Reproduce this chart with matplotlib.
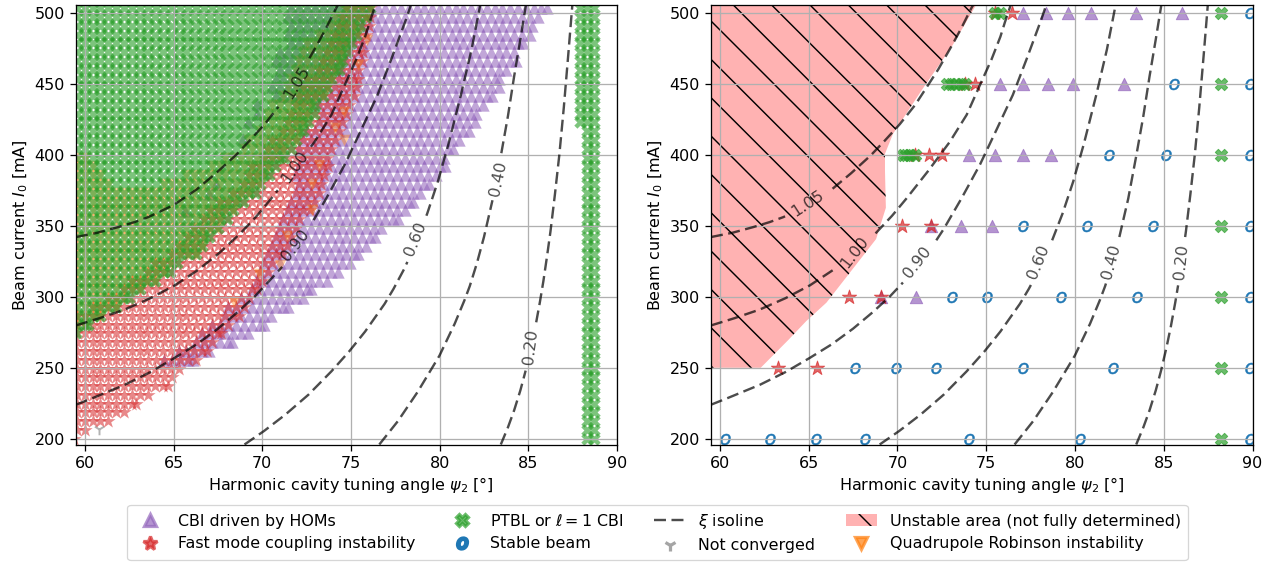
import numpy as np
import matplotlib
matplotlib.use("Agg")
import matplotlib.pyplot as plt
from matplotlib.lines import Line2D
from matplotlib.patches import Patch

plt.rcParams.update({
    "font.size": 5, "axes.linewidth": 0.4, "grid.linewidth": 0.4,
    "xtick.major.size": 1.75, "ytick.major.size": 1.75,
    "xtick.major.width": 0.4, "ytick.major.width": 0.4,
    "xtick.major.pad": 1.75, "ytick.major.pad": 1.75,
    "axes.labelpad": 1.4, "hatch.linewidth": 0.45, "patch.linewidth": 0.4,
})

nan = float("nan")

# scan rows of the left map, extent of each instability per row [deg]
rows = np.linspace(200, 503, 50)
hom_lo = [nan] * 9 + [64.2, 65, 66, 66.5, 67, 67.5, 68, 68.5, 69, 69.3, 69.5, 70, 70.2, 70.4, 70.6,
                      70.8, 71, 71.3, 71.6, 71.7, 71.8, 71.8, 71.9, 72, 72, 72.2, 72.5, 72.8, 73, 73.1,
                      70.5, 70.5, 70.5, 70.7, 70.7, 70.7, 71.2, 71.2, 71.2, 71.2, 71.2]
hom_hi = [nan] * 9 + [66.12, 67, 68.32, 69.2, 70.1, 70.5, 71.43, 72.28, 72.75, 73.65, 74.25, 74.97, 75.42,
                      75.86, 76.33, 76.8, 77.64, 78.08, 78.49, 78.97, 79.4, 79.83, 80.28, 80.28, 80.75,
                      81.19, 81.64, 82.03, 82.03, 82.5, 82.96, 83.39, 83.33, 83.82, 84.33, 84.33, 84.7,
                      85.18, 85.18, 85.65, 86.03]
fast_lo = [59] * 14 + [59.5, 60.3, 61, 61.8, 62.5, 63.3, 63.7, 64.8, 65.1, 65.5, 66, 66.5, 67, 67.4, 68.1,
                       68.5, 68.9, 69.2, 69.7, 70.1, 70.5, 70.8, 71.1, 71.4, 71.5, 72, 72.2, 72.5, 72.8,
                       73, 73.3, 73.5, 73.8, 74, 74.4, 74.7]
fast_hi = [59.4, 60, 61.3, 62.2, 62.9, 63.7, 64.7, 65, 65.4, 66.3, 66.9, 67.3, 67.7, 68.2, 68.7, 69, 69.4,
           69.7, 70, 70.4, 70.7, 71.1, 71.4, 71.7, 72, 72.2, 72.7, 72.9, 73.2, 73.3, 73.5, 73.7, 73.8, 74,
           74.2, 74.4, 74.6, 74.7, 74.9, 75.2, 75.3, 75.4, 75.5, 75.6, 75.7, 75.8, 75.9, 76, 76.1, 76.2]
ptbl_hi = [nan] * 12 + [59.5, 60.2, 61, 61.8, 62.5, 63.3, 64, 64.8, 65.2, 66.3, 66.6, 67, 67.5, 68, 68.5,
                        68.9, 69.6, 70, 70.4, 70.7, 71.2, 71.6, 72, 72.3, 72.6, 72.9, 73, 73.5, 73.7, 74,
                        74.3, 74.5, 74.8, 75, 75.3, 75.5, 75.9, 76.2]
ptbl2_cols = [88.3, 88.7]
ptbl2_upper_col = 87.93
ptbl2_upper_from = 420
quad_lo = [nan] * 12 + [59] * 22 + [69, 69.4, 69.8, 70.2, 70.5, 70.9, 71.2, 71.4, 71.5, 71.8, 72, 72.5, 73,
                                    73.5, 74, 74.5]
quad_gap_lo = [nan] * 29 + [61.6, 61, 60.6, 60.2, 59] + [nan] * 16
quad_gap_hi = [nan] * 29 + [64.4, 65.5, 67, 67.8, 68.5] + [nan] * 16
# isolated points in the left map
quad_x = [74.6, 73.2, 72.8, 72.8, 74.1, 74.6, 75.4, 75.9, 75.4, 71, 71.4, 69.8, 68.4]
quad_y = [410, 392.6, 379.6, 360.8, 418.4, 430, 485.4, 480.7, 463, 322, 343, 316, 296]
hom_x = [69.7, 69.7, 69.2, 68.9, 67.4, 67, 65.65]
hom_y = [435.7, 428.6, 422.7, 411, 379, 372, 360]
fail_x = [60.8]
fail_y = [207]

# right map
r_hom_x = [69.1, 71.05, 71.9, 73.6, 75.3, 74.05, 75.5, 77.1, 78.65, 75.75, 77.1, 78.5, 79.9, 82.75,
           77.1, 78.35, 79.6, 80.9, 83.45, 86.05]
r_hom_y = [300, 300, 350, 350, 350, 400, 400, 400, 400, 450, 450, 450, 450, 450,
           500, 500, 500, 500, 500, 500]
r_fast_x = [63.3, 65.45, 67.3, 69.1, 70.23, 71.9, 71, 71.8, 72.5, 73.8, 74.35, 75.5, 76.45]
r_fast_y = [250, 250, 300, 300, 350, 350, 400, 400, 400, 450, 450, 500, 500]
r_ptbl_x = [88.2, 88.2, 88.2, 88.2, 88.2, 88.2, 88.2, 70.3, 70.5, 70.7, 71, 72.8, 73, 73.3, 73.6, 73.8, 75.5, 75.8]
r_ptbl_y = [200, 250, 300, 350, 400, 450, 500, 400, 400, 400, 400, 450, 450, 450, 450, 450, 500, 500]
r_stable_x = [60.28, 62.8, 65.4, 68.2, 74.05, 80.3, 89.85, 67.6, 69.9, 72.2, 77.1, 82.15, 89.85,
              73.05, 75.05, 79.2, 83.5, 89.85, 77.1, 80.7, 84.4, 89.85, 81.9, 85.1, 89.85, 85.6, 89.85, 89.85]
r_stable_y = [200, 200, 200, 200, 200, 200, 200, 250, 250, 250, 250, 250, 250,
              300, 300, 300, 300, 300, 350, 350, 350, 350, 400, 400, 400, 450, 450, 500]
unstable_x = [59, 74.65, 73.1, 71.35, 69.75, 69.3, 69.3, 69.35, 68.8, 66.95, 66, 64.87, 63.85, 62.3, 59]
unstable_y = [510, 510, 476.8, 445, 414.6, 400.6, 388.6, 362.6, 340.6, 311, 295.8, 282.9, 269.5, 250, 250]

# xi isolines
iso_levels = ["1.05", "1.00", "0.90", "0.60", "0.40", "0.20"]
iso_x = [[59.5, 60.7, 61.88, 62.8, 63.57, 65, 66.3, 67.4, 68.5, 69.3, 70.14, 71, 71.6, 72.3, 73.1, 73.6, 74.16, 74.3],
         [59.5, 60.85, 62.25, 63.7, 65.07, 66.4, 67.6, 68.8, 69.7, 70.5, 71.7, 72.95, 73.9, 74.65, 75.3, 75.8, 76.05, 76.4],
         [59.5, 60.5, 62.25, 63.7, 65.07, 66.3, 67.5, 68.6, 69.56, 70.2, 71.2, 72.1, 72.6, 73.6, 74.65, 75.6, 76.5, 77.3, 78.1, 78.4],
         [69, 70.1, 71.3, 72.6, 73.9, 74.9, 75.8, 76.9, 77.4, 78, 78.6, 79.3, 79.9, 80.5, 81.2, 81.8, 82.3],
         [76.6, 77.65, 78.76, 79.99, 80.85, 81.4, 81.7, 82.1, 82.5, 83, 83.45, 83.85, 84.2, 84.55, 84.9],
         [83.45, 83.85, 84.2, 84.55, 84.85, 85.15, 85.4, 85.65, 85.85, 86.05, 86.25, 86.5, 86.75, 87, 87.25, 87.5]]
iso_y = [[342, 345, 349, 352.5, 356, 364.5, 375.5, 387, 399.5, 410, 421.5, 435, 446.5, 460, 477.5, 489, 503, 506],
         [279.8, 285, 291, 299, 308, 319, 331, 345, 357, 369, 388, 409, 428, 449, 467, 483, 493, 506],
         [224, 229, 238, 247, 257, 266.5, 277.5, 289, 300, 308.5, 322, 338, 347.5, 369, 393, 418, 442, 468, 495, 506],
         [196, 205.5, 217, 231, 247.5, 261.5, 275.5, 295, 305.5, 319.5, 336, 358.5, 381, 407.5, 442, 474, 506],
         [196, 212.5, 233, 258.5, 281, 297.5, 307.5, 323.5, 342, 369, 399, 427, 455, 481, 508],
         [196, 208, 220, 234, 248, 264, 279, 296, 311, 328, 346, 372, 400, 433, 470, 508]]
# label position, rotation and gap in the line for each panel
left_lab_x = [71.96, 71.86, 71.86, 78.64, 83.3, 85.14]
left_lab_y = [451, 391.4, 336, 341, 383.4, 264.5]
left_lab_rot = [58, 55, 52, 68, 78, 83]
left_gap = [(433.7, 467.8), (375, 405.5), (321, 353.9), (324.5, 357), (367.9, 401), (248, 282)]
right_lab_x = [64.97, 67.6, 71.15, 77.97, 82.05, 85.97]
right_lab_y = [365.6, 331.5, 324.5, 324.5, 324.5, 324.5]
right_lab_rot = [33, 52, 52, 68, 75, 84]
right_gap = [(356.6, 376), (318.6, 344.6), (310, 339.7), (309, 339.7), (309.3, 342), (308, 342)]

S_TRI, S_STAR, S_X, S_O, S_V, S_Y = 15, 22, 15, 12, 13, 13
ISO_STYLE = dict(color="k", alpha=0.7, lw=0.75, ls=(0, (5, 2.3)))


def row_points(lo, hi, gap_lo=None, gap_hi=None, edge=False):
    """Scan points falling in [lo, hi] on each row, columns drift apart at higher angles."""
    xs, ys = [], []
    base = 60 + 0.44 * np.arange(-1, 70)
    for k, current in enumerate(rows):
        grid = base + (k % 2) * 0.22 * np.clip((base - 62) / 10, 0, 1)
        keep = (grid >= lo[k]) & (grid <= hi[k])
        if gap_lo is not None and not np.isnan(gap_lo[k]):
            keep &= ~((grid > gap_lo[k]) & (grid < gap_hi[k]))
        xs.extend(grid[keep])
        ys.extend([current] * int(keep.sum()))
        # last point on the row sits on the read boundary unless a grid point is already close
        if edge and not np.isnan(hi[k]) and (not keep.any() or hi[k] - grid[keep].max() > 0.2):
            xs.append(hi[k])
            ys.append(current)
    return xs, ys


def draw_isolines(ax, gaps, lab_x, lab_y, lab_rot):
    for i, level in enumerate(iso_levels):
        x = np.array(iso_x[i])
        y = np.array(iso_y[i])
        g0, g1 = gaps[i]
        low = y < g0
        high = y > g1
        ax.plot(list(x[low]) + [np.interp(g0, y, x)], list(y[low]) + [g0], **ISO_STYLE)
        ax.plot([np.interp(g1, y, x)] + list(x[high]), [g1] + list(y[high]), **ISO_STYLE)
        ax.text(lab_x[i], lab_y[i], level, rotation=lab_rot[i], rotation_mode="anchor",
                ha="center", va="center", color="k", alpha=0.7)


fig = plt.figure(figsize=(1270 / 230, 562 / 230), dpi=230)
ax1 = fig.add_axes([76 / 1270, (562 - 444.5) / 562, 541 / 1270, 439.5 / 562])
ax2 = fig.add_axes([711 / 1270, (562 - 444.5) / 562, 541.5 / 1270, 439.5 / 562])

# left map
x, y = row_points(hom_lo, hom_hi, edge=True)
ax1.scatter(x + hom_x, y + hom_y, marker="^", s=S_TRI, c="tab:purple", alpha=0.58, linewidths=0)
x, y = row_points(fast_lo, fast_hi, edge=True)
ax1.scatter(x, y, marker="*", s=S_STAR, c="tab:red", alpha=0.55, linewidths=0)
x, y = row_points(quad_lo, ptbl_hi, quad_gap_lo, quad_gap_hi)
ax1.scatter(x + quad_x, y + quad_y, marker="v", s=S_V, c="tab:orange", alpha=0.4, linewidths=0)
x, y = row_points([59] * 50, ptbl_hi, edge=True)
ax1.scatter(x, y, marker="X", s=S_X, c="tab:green", alpha=0.62, linewidths=0)
band_x = [c for c in ptbl2_cols for _ in rows] + [ptbl2_upper_col] * int((rows > ptbl2_upper_from).sum())
band_y = list(rows) * len(ptbl2_cols) + list(rows[rows > ptbl2_upper_from])
ax1.scatter(band_x, band_y, marker="X", s=S_X, c="tab:green", alpha=0.62, linewidths=0)
ax1.scatter(fail_x, fail_y, marker="1", s=S_Y, c="tab:gray", alpha=0.6, linewidths=0.6)
draw_isolines(ax1, left_gap, left_lab_x, left_lab_y, left_lab_rot)

# right map
ax2.fill(unstable_x, unstable_y, facecolor=(1, 0, 0, 0.3), edgecolor="k", hatch="\\\\", lw=0)
ax2.scatter(r_hom_x, r_hom_y, marker="^", s=S_TRI, c="tab:purple", alpha=0.7, linewidths=0.3)
ax2.scatter(r_fast_x, r_fast_y, marker="*", s=S_STAR, c="tab:red", alpha=0.7, linewidths=0.3)
ax2.scatter(r_ptbl_x, r_ptbl_y, marker="X", s=S_X, c="tab:green", alpha=0.7, linewidths=0.3)
ax2.scatter(r_stable_x, r_stable_y, marker="$o$", s=S_O, c="tab:blue", linewidths=0.15)
draw_isolines(ax2, right_gap, right_lab_x, right_lab_y, right_lab_rot)

for ax in (ax1, ax2):
    ax.set_xlim(59.5, 90)
    ax.set_ylim(196, 505.3)
    ax.set_xticks(range(60, 95, 5))
    ax.set_yticks(range(200, 550, 50))
    ax.grid(True)
    ax.set_xlabel(r"Harmonic cavity tuning angle $\psi_2$ [°]")
    ax.set_ylabel(r"Beam current $I_0$ [mA]")
ax1.xaxis.label.set_x(0.5 + 4 / 541)

handles = [
    Line2D([], [], ls="", marker="^", ms=S_TRI ** 0.5, color="tab:purple", alpha=0.7),
    Line2D([], [], ls="", marker="*", ms=S_STAR ** 0.5, color="tab:red", alpha=0.7),
    Line2D([], [], ls="", marker="X", ms=S_X ** 0.5, color="tab:green", alpha=0.7),
    Line2D([], [], ls="", marker="$o$", ms=S_O ** 0.5, color="tab:blue"),
    Line2D([], [], **ISO_STYLE),
    Line2D([], [], ls="", marker="1", ms=S_Y ** 0.5, color="tab:gray", alpha=0.7),
    Patch(facecolor=(1, 0, 0, 0.3), edgecolor="k", hatch="\\\\", lw=0),
    Line2D([], [], ls="", marker="v", ms=S_V ** 0.5, color="tab:orange", alpha=0.7),
]
labels = ["CBI driven by HOMs", "Fast mode coupling instability", r"PTBL or $\ell=1$ CBI", "Stable beam",
          r"$\xi$ isoline", "Not converged", "Unstable area (not fully determined)",
          "Quadrupole Robinson instability"]
fig.legend(handles, labels, ncol=4, loc="center", bbox_to_anchor=(657.5 / 1270, 1 - 532.5 / 562),
           fontsize=4.97, columnspacing=1.9)

fig.savefig("out.png", dpi=230)
